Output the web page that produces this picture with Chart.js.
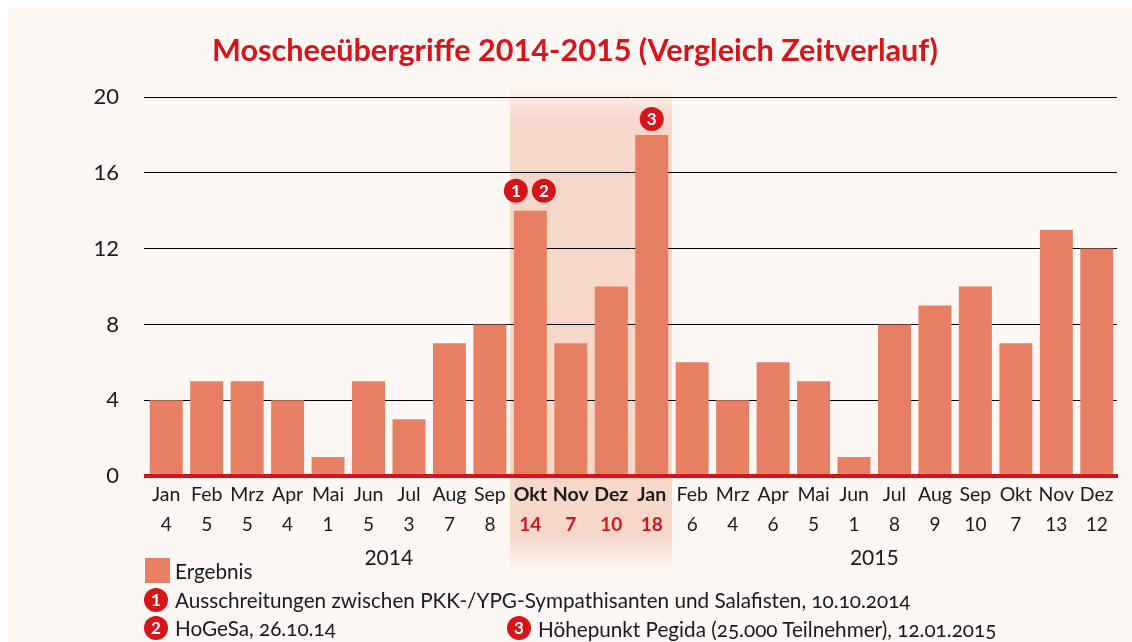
<!DOCTYPE html>
<html lang="de">
<head>
    <meta charset="UTF-8">
    <title>Moscheeübergriffe 2014-2015</title>
    <style>
        html, body { margin: 0; padding: 0; background: white; }
        #wrap { position: relative; width: 1132px; height: 642px; overflow: hidden; }
        #panel { position: absolute; left: 8px; top: 7px; right: 0; bottom: 0; background: #fdf7f5; }
        canvas { position: absolute; left: 0; top: 0; }
        .legend { position: absolute; font: 20.7px Lato, sans-serif; color: #1a1a1a; white-space: nowrap; line-height: 24px; font-feature-settings: "onum"; }
        .swatch { position: absolute; left: 145px; top: 558px; width: 25px; height: 25px; background: #e78063; }
        .badge { position: absolute; width: 24px; height: 24px; border-radius: 50%; background: #d7141a; color: white; font: bold 17px/24px Lato, sans-serif; text-align: center; }
    </style>
    <script src="https://cdn.jsdelivr.net/npm/chart.js"></script>
</head>
<body>
<div id="wrap">
    <div id="panel"></div>
    <canvas id="chart" width="1132" height="642"></canvas>
    <div class="swatch"></div>
    <div class="legend" style="left:175px;top:559px">Ergebnis</div>
    <div class="badge" style="left:144px;top:588px">1</div>
    <div class="legend" style="left:175px;top:588px">Ausschreitungen zwischen PKK-/YPG-Sympathisanten und Salafisten, 10.10.2014</div>
    <div class="badge" style="left:144px;top:616px">2</div>
    <div class="legend" style="left:175px;top:616px">HoGeSa, 26.10.14</div>
    <div class="badge" style="left:507px;top:616px">3</div>
    <div class="legend" style="left:538px;top:617px">Höhepunkt Pegida (25.000 Teilnehmer), 12.01.2015</div>
</div>
<script>
    var months = ['Jan','Feb','Mrz','Apr','Mai','Jun','Jul','Aug','Sep','Okt','Nov','Dez',
                  'Jan','Feb','Mrz','Apr','Mai','Jun','Jul','Aug','Sep','Okt','Nov','Dez'];
    var values = [4,5,5,4,1,5,3,7,8,14,7,10,18,6,4,6,5,1,8,9,10,7,13,12];
    var years = ['2014', '2015'];
    var highlighted = [9, 10, 11, 12];
    var markerBars = [9, 9, 12];
    var markerTexts = ['1', '2', '3'];

    var RED = '#d7141a';
    var BAR = '#e78063';
    var BAND = '#f7d7c9';
    var FONT = 'Lato, sans-serif';

    function isHot(i) { return highlighted.indexOf(i) >= 0; }

    // the shaded Okt-Jan column, fades out at both ends
    var bandPlugin = {
        id: 'band',
        beforeDraw: function(chart) {
            var ctx = chart.ctx, x = chart.scales.x, area = chart.chartArea;
            var half = (x.getPixelForValue(1) - x.getPixelForValue(0)) / 2;
            var left = x.getPixelForValue(highlighted[0]) - half;
            var right = x.getPixelForValue(highlighted[highlighted.length - 1]) + half;
            var top = area.top - 10, bottom = area.bottom + 94;
            var g = ctx.createLinearGradient(0, top, 0, bottom);
            var h = bottom - top;
            g.addColorStop(0, 'rgba(247,215,201,0)');
            g.addColorStop(31 / h, BAND);
            g.addColorStop((h - 34) / h, BAND);
            g.addColorStop(1, 'rgba(247,215,201,0)');
            ctx.save();
            ctx.fillStyle = g;
            ctx.fillRect(left, top, right - left, h);
            ctx.restore();
        }
    };

    // numbered badges above the bars and the year row under the axis
    var extrasPlugin = {
        id: 'extras',
        afterDraw: function(chart) {
            var ctx = chart.ctx, x = chart.scales.x;
            var bars = chart.getDatasetMeta(0).data;
            ctx.save();
            markerTexts.forEach(function(t, i) {
                var bar = bars[markerBars[i]];
                var same = markerBars.filter(function(b) { return b === markerBars[i]; }).length > 1;
                var cx = bar.x + (same ? (i === 0 ? -14.5 : 13.5) : 0);
                var cy = bar.y - (same ? 20 : 16);
                ctx.fillStyle = RED;
                ctx.beginPath();
                ctx.arc(cx, cy, 12, 0, Math.PI * 2);
                ctx.fill();
                ctx.fillStyle = 'white';
                ctx.font = 'bold 17px ' + FONT;
                ctx.textAlign = 'center';
                ctx.textBaseline = 'middle';
                ctx.fillText(t, cx, cy + 1);
            });
            ctx.fillStyle = '#1a1a1a';
            ctx.font = '21px ' + FONT;
            ctx.textAlign = 'center';
            ctx.textBaseline = 'middle';
            years.forEach(function(y, i) {
                var mid = (x.getPixelForValue(i * 12) + x.getPixelForValue(i * 12 + 11)) / 2;
                ctx.fillText(y, mid, 558);
            });
            ctx.restore();
        }
    };

    new Chart(document.getElementById('chart'), {
        type: 'bar',
        data: {
            labels: months,
            datasets: [{
                label: 'Ergebnis',
                data: values,
                backgroundColor: BAR,
                barPercentage: 0.815,
                categoryPercentage: 1
            }]
        },
        options: {
            responsive: false,
            animation: false,
            layout: { padding: { left: 33, right: 15, top: 0, bottom: 106 } },
            plugins: {
                legend: { display: false },
                tooltip: { enabled: false },
                title: {
                    display: true,
                    text: 'Moscheeübergriffe 2014-2015 (Vergleich Zeitverlauf)',
                    color: RED,
                    font: { family: FONT, size: 30.6, weight: 'bold', lineHeight: 1.2 },
                    padding: { top: 33, bottom: 27.3 }
                }
            },
            scales: {
                x: {
                    position: 'bottom',
                    afterFit: function(s) { s.height = 30; },
                    grid: { display: false, drawTicks: false },
                    border: { color: RED, width: 4, z: 1 },
                    ticks: {
                        autoSkip: false, maxRotation: 0, padding: 7,
                        color: '#1a1a1a',
                        font: function(c) {
                            return { family: FONT, size: 19.5, weight: isHot(c.index) ? 'bold' : 'normal' };
                        }
                    }
                },
                counts: {
                    type: 'category',
                    position: 'bottom',
                    labels: values.map(String),
                    afterFit: function(s) { s.height = 30; },
                    grid: { display: false, drawTicks: false },
                    border: { display: false },
                    ticks: {
                        autoSkip: false, maxRotation: 0, padding: 7,
                        color: function(c) { return isHot(c.index) ? RED : '#1a1a1a'; },
                        font: function(c) {
                            return { family: FONT, size: 19, weight: isHot(c.index) ? 'bold' : 'normal' };
                        }
                    }
                },
                y: {
                    min: 0,
                    max: 20,
                    afterFit: function(s) { s.width = 113; },
                    grid: { color: '#000', lineWidth: 1, tickLength: 2 },
                    border: { display: false },
                    ticks: {
                        stepSize: 4, padding: 25,
                        color: '#1a1a1a',
                        font: { family: FONT, size: 22 }
                    }
                }
            }
        },
        plugins: [bandPlugin, extrasPlugin]
    });
</script>
</body>
</html>
